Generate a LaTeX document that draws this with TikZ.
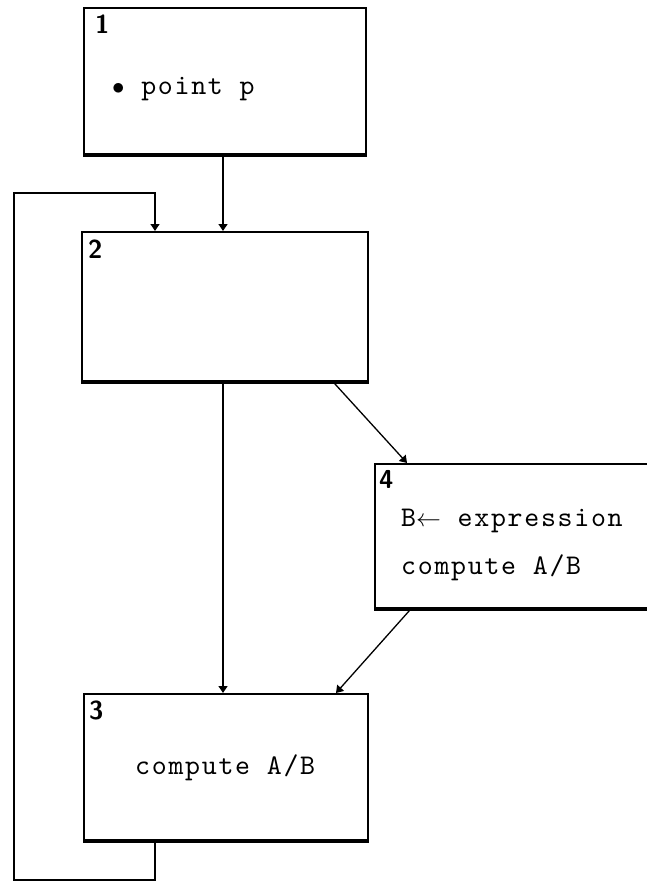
\documentclass[tikz,border=0pt]{standalone}
\usepackage{fontspec}
\newfontfamily\tw{lmmono10-regular.otf}[LetterSpace=6]
\usetikzlibrary{arrows.meta,calc}
\begin{document}
\begin{tikzpicture}[x=1pt,y=1pt,
  boxnode/.style={draw, line width=1.8pt, rectangle, anchor=north west, inner sep=0pt},
  bottomline/.style={line width=3.6pt},
  conn/.style={line width=1.3pt},
  arr/.style={conn, -{Triangle[length=7pt,width=9pt]}},
  num/.style={anchor=base west, inner sep=0pt, font=\sffamily\bfseries\fontsize{26}{26}\selectfont},
  txt/.style={anchor=base west, inner sep=0pt, font=\tw\fontsize{28.5}{28.5}\selectfont}]
\useasboundingbox (0,0) rectangle (646,-883);
% boxes
\node[boxnode, minimum width=282pt, minimum height=146pt] (b1) at (83,-7) {};
\node[boxnode, minimum width=286pt, minimum height=149pt] (b2) at (81,-231) {};
\node[boxnode, minimum width=292pt, minimum height=144pt] (b4) at (374,-463) {};
\node[boxnode, minimum width=284pt, minimum height=146pt] (b3) at (83,-693) {};
\foreach \b in {b1,b2,b4,b3} {\draw[bottomline] (\b.south west) -- (\b.south east);}
% labels
\node[num] (n1) at (95,-34) {1};
\node[num] (n2) at (88,-258) {2};
\node[num] (n4) at (379,-488) {4};
\node[num] (n3) at (89,-719) {3};
\node[txt] (t1) at (112,-94) {$\bullet$ point p};
\node[txt] (t4a) at (401,-526) {B$\leftarrow$ expression};
\node[txt] (t4b) at (401,-574) {compute A/B};
\node[txt] (t3) at (135,-774) {compute A/B};
% helper coordinates
\coordinate (xm) at (223,0);
\coordinate (xl) at (155,0);
\coordinate (lpb) at (14,-880);
\coordinate (lpt) at (14,-193);
% connectors
\draw[arr] (b1.south -| xm) -- (b2.north -| xm);
\draw[arr] (b2.south -| xm) -- (b3.north -| xm);
\draw[arr] ($(b2.south west)+(252,0)$) -- ($(b4.north west)+(33,0)$);
\draw[arr] ($(b4.south west)+(37,0)$) -- ($(b3.north west)+(253,0)$);
\draw[arr] (b3.south -| xl) |- (lpb) -- (lpt) -| (b2.north -| xl);
\end{tikzpicture}
\end{document}
